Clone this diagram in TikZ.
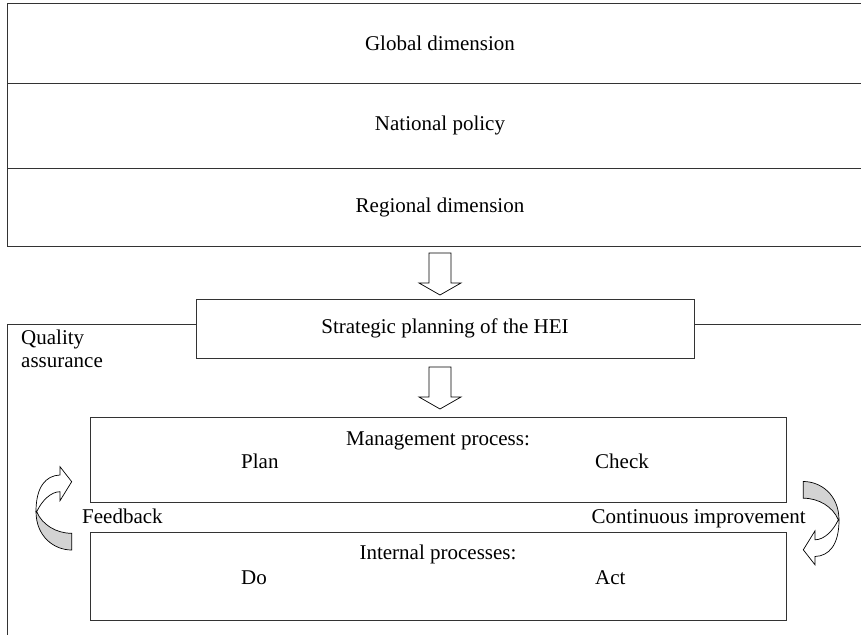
\documentclass[tikz,border=0pt]{standalone}
\usepackage{fontspec}
\setmainfont{Liberation Serif}
\usetikzlibrary{positioning}
\definecolor{linegray}{HTML}{333333}
\definecolor{backgray}{HTML}{D3D3D3}

\begin{document}
\begin{tikzpicture}[x=1pt, y=-1pt,
    band/.style={draw=linegray, line width=1pt, minimum width=866, inner sep=0pt, outer sep=0pt, font=\fontsize{21}{24}\selectfont},
    stage/.style={draw=linegray, line width=1pt, inner sep=0pt, outer sep=0pt, font=\fontsize{21}{24}\selectfont},
    txt/.style={inner sep=0pt, font=\fontsize{21}{24}\selectfont},
    qaline/.style={linegray, line width=1pt},
    downarrow/.pic={
        \filldraw[fill=white, draw=black, line width=0.7pt] (-11,0) -- (-11,30) -- (-21,30) -- (0,42) -- (21,30) -- (11,30) -- (11,0) -- cycle;
    },
    cyclearrow/.pic={
        % back of the band
        \filldraw[fill=backgray, draw=black, line width=0.7pt] (-18,3) .. controls (-18,28) and (0,41.5) .. (17.7,41.5) -- (17.7,24.8) .. controls (2,24.8) and (-12,16) .. (-17.3,3.2) -- cycle;
        % front of the band and its head
        \filldraw[fill=white, draw=black, line width=0.7pt] (-17.3,3.2) .. controls (-12,-8) and (-3,-16.8) .. (6,-16.8) -- (6,-7.8) -- (17.7,-26.8) -- (6,-41.8) -- (6,-33.5) .. controls (-8,-33) and (-18,-22) .. (-18,3) -- cycle;
    }
]
\clip (0,0) rectangle (861,634);

% Context levels
\node[band, minimum height=79, anchor=north west] (global) at (7,4) {Global dimension};
\node[band, minimum height=85, below=0pt of global] (national) {National policy};
\node[band, minimum height=78, below=0pt of national] (regional) {Regional dimension};

\pic at (440,253) {downarrow};

% Strategy and quality assurance frame
\node[stage, minimum width=498, minimum height=59] (strategic) at (445,328.5) {Strategic planning of the HEI};

\coordinate (qaleft) at (7,324);
\coordinate (qaright) at (870,324);
\draw[qaline] (7,640) -- (qaleft) -- (strategic.west |- qaleft);
\draw[qaline] (strategic.east |- qaleft) -- (qaright);
\node[txt, align=left, anchor=north west, font=\fontsize{21}{23}\selectfont] (qa) at (21,330) {Quality\\assurance};

\pic at (440,367) {downarrow};

% PDCA processes
\node[stage, minimum width=696, minimum height=85] (mgmt) at (438,459.5) {};
\node[stage, minimum width=696, minimum height=88] (internal) at (438,576) {};

\node[txt, anchor=base] (mgmttitle) at (438,445) {Management process:};
\node[txt, anchor=base west] (plan) at (241,468) {Plan};
\node[txt, anchor=base west] (check) at (595,468) {Check};
\node[txt, anchor=base] (inttitle) at (438,559) {Internal processes:};
\node[txt, anchor=base west] (do) at (241,584) {Do};
\node[txt, anchor=base west] (act) at (595,584) {Act};

\node[txt, anchor=base west] (feedback) at (82,523) {Feedback};
\node[txt, anchor=base east] (improve) at (806,523) {Continuous improvement};

\pic at (54,508.5) {cyclearrow};
\pic[rotate=180] at (821,523) {cyclearrow};

\end{tikzpicture}
\end{document}
